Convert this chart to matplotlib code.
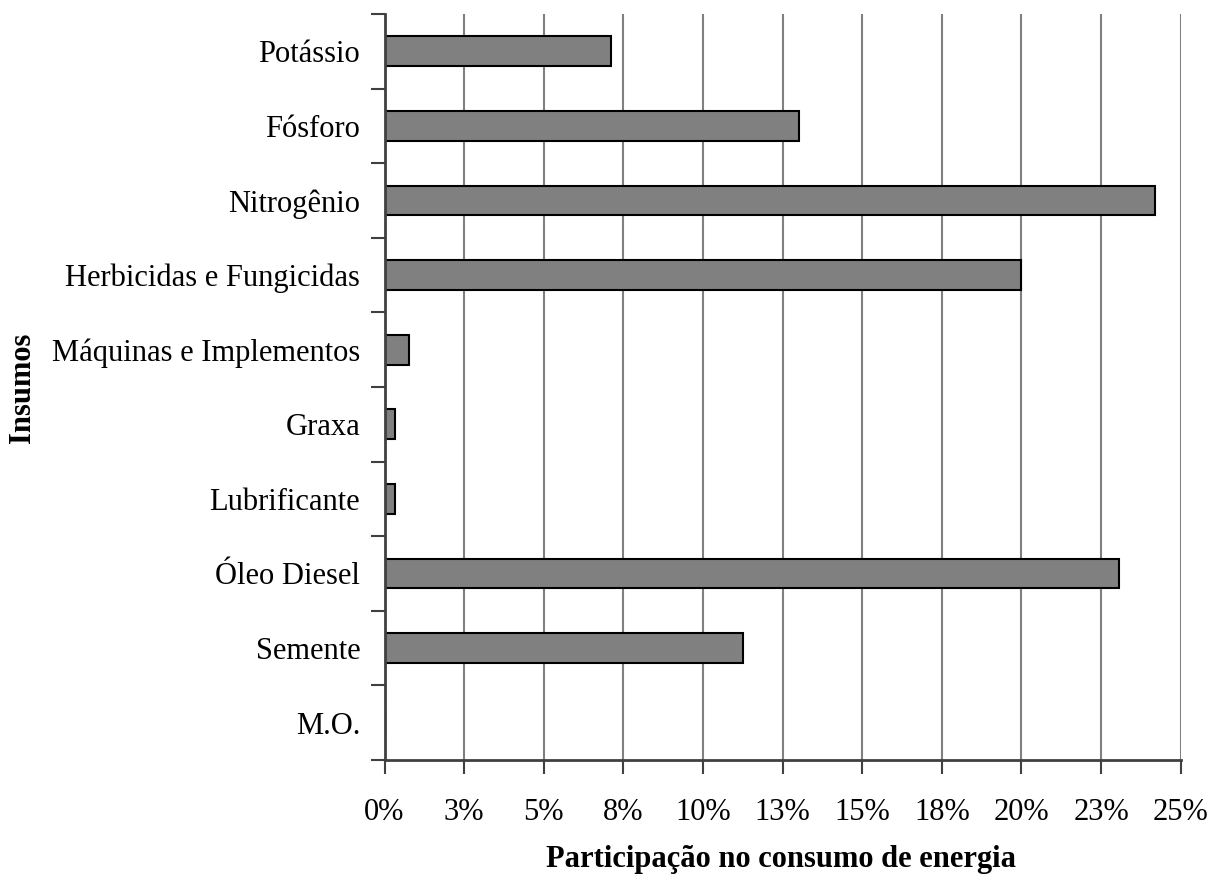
import matplotlib
matplotlib.use("Agg")
import matplotlib.pyplot as plt
import numpy as np

plt.rcParams['font.family'] = ['Liberation Serif', 'DejaVu Serif']

categories = ["M.O.", "Semente", "Óleo Diesel", "Lubrificante", "Graxa",
              "Máquinas e Implementos", "Herbicidas e Fungicidas",
              "Nitrogênio", "Fósforo", "Potássio"]
values = [0.0, 11.25, 23.06, 0.33, 0.33, 0.78, 20.0, 24.19, 13.01, 7.11]
xtick_values = [0, 2.5, 5, 7.5, 10, 12.5, 15, 17.5, 20, 22.5, 25]
xtick_labels = ["0%", "3%", "5%", "8%", "10%", "13%", "15%", "18%", "20%", "23%", "25%"]

fig = plt.figure(figsize=(12.13, 8.84), dpi=100)
ax = fig.add_axes([384.5/1213, 1 - 760/884, (1180.7-384.5)/1213, (760-14)/884])

y = np.arange(len(categories))
ax.barh(y, values, height=0.4, color="#808080", edgecolor="black", linewidth=1.5, zorder=2)

ax.set_xlim(0, 25)
ax.set_ylim(-0.5, len(categories) - 0.5)

ax.set_xticks(xtick_values)
ax.set_xticklabels(xtick_labels, fontsize=22)
ax.xaxis.grid(True, color="#808080", linewidth=1.5, zorder=0.5)
ax.set_axisbelow(True)

ax.set_yticks(y)
ax.set_yticklabels(categories, fontsize=22)
ax.set_yticks(np.arange(-0.5, len(categories), 1.0), minor=True)
ax.tick_params(axis='y', which='major', length=0, pad=17.5)
ax.tick_params(axis='y', which='minor', length=10, width=1.5, color="#404040")
ax.tick_params(axis='x', which='major', length=10, width=1.5, color="#404040", pad=17)

for s in ["top", "right"]:
    ax.spines[s].set_visible(False)
for s in ["left", "bottom"]:
    ax.spines[s].set_color("#404040")
    ax.spines[s].set_linewidth(2)
    ax.spines[s].set_zorder(3)

fig.text((545 + 1018) / 2 / 1213, 1 - 859 / 884, "Participação no consumo de energia",
         fontsize=22, fontweight="bold", ha="center", va="center")
fig.text(23 / 1213, 1 - 388 / 884, "Insumos", fontsize=22, fontweight="bold",
         rotation=90, ha="center", va="center")

fig.savefig("out.png", dpi=100)
